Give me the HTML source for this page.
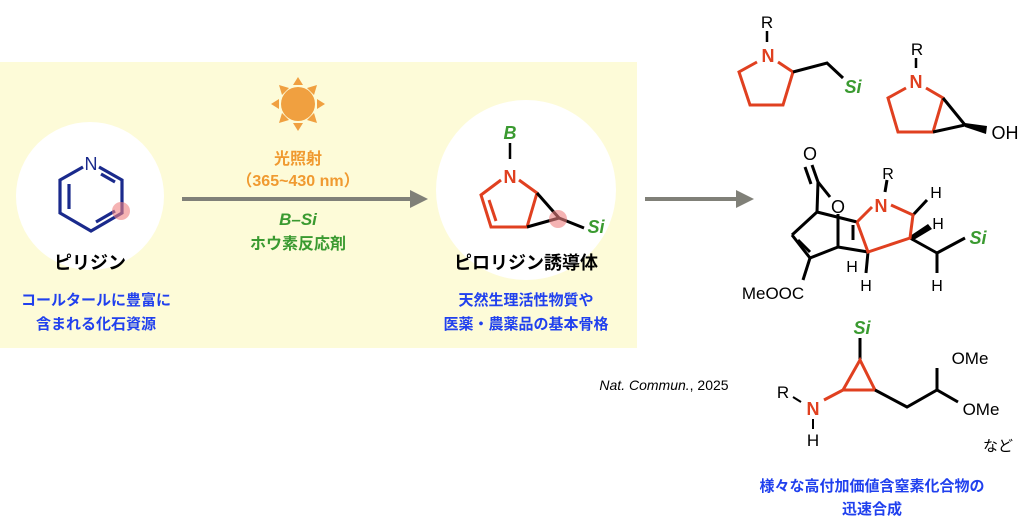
<!DOCTYPE html>
<html><head><meta charset="utf-8"><style>
body{margin:0;background:#fff;width:1024px;height:530px;overflow:hidden}
svg{display:block}
text{font-family:"Liberation Sans","Noto Sans CJK JP",sans-serif}
.jp{font-weight:bold}
</style></head><body>
<svg width="1024" height="530" viewBox="0 0 1024 530">
<rect x="0" y="62" width="637" height="286" fill="#fdfbd8"/>
<circle cx="90" cy="196" r="74" fill="#fff"/>
<circle cx="526" cy="190" r="90" fill="#fff"/>
<!-- pyridine -->
<g stroke="#1a2a8c" stroke-width="3.2" fill="none">
<polyline points="99,167 122,180 122,213 91,231 60,213 60,180 83,167"/>
<line x1="69" y1="184" x2="69" y2="209"/><line x1="96" y1="222" x2="115" y2="211"/><line x1="101" y1="174" x2="115" y2="182"/>
</g>
<circle cx="121" cy="211" r="9" fill="#ef8080" opacity="0.6"/>
<text x="91" y="170" font-size="18" fill="#1a2a8c" text-anchor="middle">N</text>
<text x="90" y="269" font-size="18" class="jp" text-anchor="middle">ピリジン</text>
<text x="96" y="305" font-size="15" class="jp" fill="#2040ee" text-anchor="middle">コールタールに豊富に</text>
<text x="96" y="329" font-size="15" class="jp" fill="#2040ee" text-anchor="middle">含まれる化石資源</text>
<!-- sun -->
<g fill="#f0a040"><circle cx="298" cy="104" r="17"/>
<polygon points="298,77 293,85 303,85"/><polygon points="298,131 293,123 303,123"/>
<polygon points="271,104 279,99 279,109"/><polygon points="325,104 317,99 317,109"/>
<polygon points="279,85 289,88 282,95"/><polygon points="317,85 307,88 314,95"/>
<polygon points="279,123 289,120 282,113"/><polygon points="317,123 307,120 314,113"/></g>
<text x="298" y="164" font-size="16" class="jp" fill="#f09a30" text-anchor="middle">光照射</text>
<text x="298" y="186" font-size="16" class="jp" fill="#f09a30" text-anchor="middle">（365~430 nm）</text>
<line x1="182" y1="199" x2="412" y2="199" stroke="#808078" stroke-width="4"/>
<polygon points="410,190 428,199 410,208" fill="#808078"/>
<text x="298" y="225" font-size="17" font-weight="bold" font-style="italic" fill="#3a9a30" text-anchor="middle">B–Si</text>
<text x="298" y="249" font-size="16" class="jp" fill="#3a9a30" text-anchor="middle">ホウ素反応剤</text>
<!-- pyrrolizine -->
<text x="510" y="139" font-size="18" font-weight="bold" font-style="italic" fill="#3a9a30" text-anchor="middle">B</text>
<line x1="510" y1="143" x2="510" y2="159" stroke="#000" stroke-width="2.5"/>
<text x="510" y="183" font-size="18" font-weight="bold" fill="#e04020" text-anchor="middle">N</text>
<g stroke="#e04020" stroke-width="3" fill="none">
<polyline points="519,180 537,193 527,227 491,227 481,195 501,180"/>
<line x1="489" y1="200" x2="496" y2="221"/></g>
<g stroke="#000" stroke-width="3"><line x1="537" y1="193" x2="559" y2="218"/><line x1="527" y1="227" x2="559" y2="218"/><line x1="559" y1="218" x2="584" y2="228"/></g>
<circle cx="558" cy="219" r="9" fill="#ef8080" opacity="0.6"/>
<text x="596" y="233" font-size="18" font-weight="bold" font-style="italic" fill="#3a9a30" text-anchor="middle">Si</text>
<text x="526" y="269" font-size="18" class="jp" text-anchor="middle">ピロリジン誘導体</text>
<text x="526" y="305" font-size="15" class="jp" fill="#2040ee" text-anchor="middle">天然生理活性物質や</text>
<text x="526" y="329" font-size="15" class="jp" fill="#2040ee" text-anchor="middle">医薬・農薬品の基本骨格</text>
<line x1="645" y1="199" x2="738" y2="199" stroke="#808078" stroke-width="4"/>
<polygon points="736,190 754,199 736,208" fill="#808078"/>
<!-- mol1 -->
<text x="767" y="28" font-size="17" text-anchor="middle">R</text>
<line x1="767" y1="31" x2="767" y2="42" stroke="#000" stroke-width="2.5"/>
<text x="768" y="62" font-size="18" font-weight="bold" fill="#e04020" text-anchor="middle">N</text>
<polyline points="778,62 793,72 783,105 750,105 739,72 757,62" stroke="#e04020" stroke-width="3" fill="none"/>
<polyline points="793,72 827,63 843,78" stroke="#000" stroke-width="3" fill="none"/>
<text x="853" y="93" font-size="18" font-weight="bold" font-style="italic" fill="#3a9a30" text-anchor="middle">Si</text>
<!-- mol2 -->
<text x="917" y="55" font-size="17" text-anchor="middle">R</text>
<line x1="916" y1="58" x2="916" y2="68" stroke="#000" stroke-width="2.5"/>
<text x="916" y="88" font-size="18" font-weight="bold" fill="#e04020" text-anchor="middle">N</text>
<polyline points="926,88 943,98 933,132 898,132 888,98 906,88" stroke="#e04020" stroke-width="3" fill="none"/>
<g stroke="#000" stroke-width="3"><line x1="943" y1="98" x2="965" y2="125"/><line x1="933" y1="132" x2="965" y2="125"/></g>
<polygon points="965,123 987,126 986,134 965,127" fill="#000"/>
<text x="1005" y="139" font-size="18" text-anchor="middle">OH</text>
<!-- mol3 -->
<text x="810" y="160" font-size="18" text-anchor="middle">O</text>
<g stroke="#000" stroke-width="3" fill="none">
<line x1="812" y1="165" x2="818" y2="182"/><line x1="805" y1="167" x2="811" y2="184"/>
<line x1="818" y1="182" x2="817" y2="212"/><line x1="818" y1="182" x2="830" y2="197"/>
<line x1="817" y1="212" x2="792" y2="235"/><line x1="792" y1="235" x2="810" y2="258"/><line x1="798" y1="240" x2="810" y2="252"/>
<line x1="810" y1="258" x2="838" y2="247"/><line x1="810" y1="258" x2="803" y2="280"/>
<line x1="838" y1="214" x2="838" y2="247"/><line x1="817" y1="212" x2="857" y2="222"/>
<line x1="838" y1="247" x2="868" y2="252"/><line x1="853" y1="225" x2="853" y2="240"/>
<line x1="868" y1="252" x2="866" y2="273"/><line x1="913" y1="215" x2="927" y2="200"/>
<line x1="910" y1="238" x2="937" y2="253"/><line x1="937" y1="253" x2="937" y2="273"/><line x1="937" y1="253" x2="965" y2="238"/>
<line x1="887" y1="180" x2="885" y2="192"/></g>
<polygon points="910,236 928,224 932,229 912,241" fill="#000"/>
<text x="838" y="213" font-size="18" text-anchor="middle">O</text>
<text x="773" y="299" font-size="17" text-anchor="middle">MeOOC</text>
<text x="852" y="272" font-size="16" text-anchor="middle">H</text>
<text x="866" y="291" font-size="16" text-anchor="middle">H</text>
<text x="936" y="198" font-size="16" text-anchor="middle">H</text>
<text x="938" y="229" font-size="16" text-anchor="middle">H</text>
<text x="937" y="291" font-size="16" text-anchor="middle">H</text>
<text x="888" y="179" font-size="16" text-anchor="middle">R</text>
<text x="881" y="212" font-size="18" font-weight="bold" fill="#e04020" text-anchor="middle">N</text>
<polyline points="857,222 868,252 910,238 913,215 891,205" stroke="#e04020" stroke-width="3" fill="none"/>
<line x1="857" y1="222" x2="872" y2="207" stroke="#e04020" stroke-width="3"/>
<text x="978" y="244" font-size="18" font-weight="bold" font-style="italic" fill="#3a9a30" text-anchor="middle">Si</text>
<!-- mol4 -->
<text x="664" y="390" font-size="14" font-style="italic" text-anchor="middle">Nat. Commun.<tspan font-style="normal">, 2025</tspan></text>
<text x="862" y="334" font-size="18" font-weight="bold" font-style="italic" fill="#3a9a30" text-anchor="middle">Si</text>
<line x1="860" y1="338" x2="860" y2="360" stroke="#000" stroke-width="3"/>
<polygon points="860,360 843,390 875,390" stroke="#e04020" stroke-width="3" fill="none"/>
<line x1="843" y1="390" x2="824" y2="400" stroke="#e04020" stroke-width="3"/>
<text x="813" y="415" font-size="18" font-weight="bold" fill="#e04020" text-anchor="middle">N</text>
<text x="783" y="398" font-size="17" text-anchor="middle">R</text>
<line x1="793" y1="397" x2="801" y2="402" stroke="#000" stroke-width="2"/>
<line x1="813" y1="419" x2="813" y2="429" stroke="#000" stroke-width="2"/>
<text x="813" y="446" font-size="17" text-anchor="middle">H</text>
<polyline points="875,390 907,407 937,390 958,402" stroke="#000" stroke-width="3" fill="none"/>
<line x1="937" y1="390" x2="937" y2="368" stroke="#000" stroke-width="3"/>
<text x="970" y="364" font-size="17" text-anchor="middle">OMe</text>
<text x="981" y="415" font-size="17" text-anchor="middle">OMe</text>
<text x="998" y="451" font-size="15" text-anchor="middle">など</text>
<text x="872" y="491" font-size="15" class="jp" fill="#2040ee" text-anchor="middle">様々な高付加価値含窒素化合物の</text>
<text x="872" y="514" font-size="15" class="jp" fill="#2040ee" text-anchor="middle">迅速合成</text>
</svg>
</body></html>
